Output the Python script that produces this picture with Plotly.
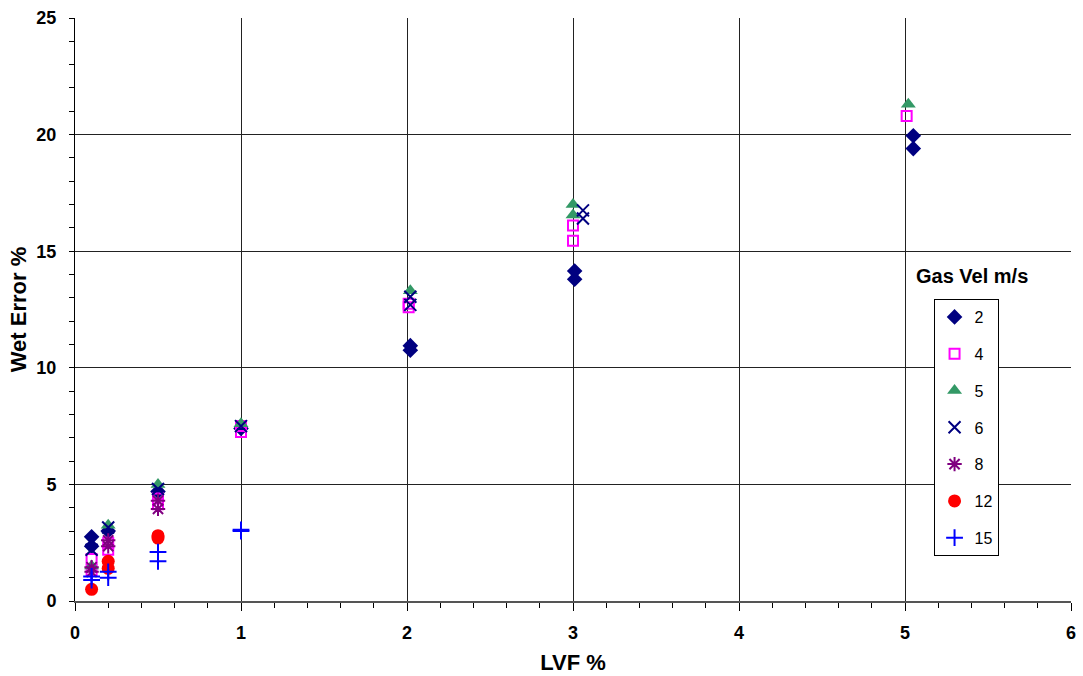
import plotly.graph_objects as go

# Data: LVF % (x) and Wet Error % (y) by gas velocity (m/s)
v2_x = [0.1, 0.1, 0.2, 0.5, 1.0, 2.02, 2.02, 3.01, 3.01, 5.05, 5.05]
v2_y = [2.75, 2.35, 3.0, 4.7, 7.4, 10.95, 10.75, 14.15, 13.8, 19.95, 19.4]

v4_x = [0.1, 0.1, 0.2, 0.2, 0.5, 0.5, 1.0, 1.0, 2.01, 2.01, 3.0, 3.0, 5.01]
v4_y = [1.8, 1.3, 2.5, 2.2, 4.4, 4.15, 7.5, 7.25, 12.75, 12.6, 16.1, 15.45, 20.8]

v5_x = [0.1, 0.2, 0.5, 1.0, 2.02, 3.0, 3.0, 5.02]
v5_y = [1.5, 3.25, 5.0, 7.6, 13.3, 17.0, 16.55, 21.3]

v6_x = [0.1, 0.2, 0.5, 1.0, 2.02, 2.02, 3.06, 3.06]
v6_y = [2.2, 3.15, 4.8, 7.5, 13.05, 12.7, 16.75, 16.4]

v8_x = [0.1, 0.1, 0.2, 0.2, 0.5, 0.5]
v8_y = [1.45, 1.25, 2.6, 2.35, 4.3, 3.95]

v12_x = [0.1, 0.2, 0.2, 0.5, 0.5]
v12_y = [0.5, 1.7, 1.4, 2.8, 2.7]

v15_x = [0.1, 0.1, 0.2, 0.2, 0.5, 0.5, 1.0, 1.0]
v15_y = [1.05, 0.9, 1.25, 1.0, 2.1, 1.7, 3.05, 3.0]

x_tick_vals = [0, 1, 2, 3, 4, 5, 6]
y_tick_vals = [0, 5, 10, 15, 20, 25]

series = [
    ("2", v2_x, v2_y, dict(symbol="diamond", color="#000080", size=12)),
    ("4", v4_x, v4_y, dict(symbol="square-open", color="#FF00FF", size=10, line=dict(width=2, color="#FF00FF"))),
    ("5", v5_x, v5_y, dict(symbol="triangle-up", color="#339966", size=13)),
    ("6", v6_x, v6_y, dict(symbol="x-thin-open", color="#000080", size=12, line=dict(width=2, color="#000080"))),
    ("8", v8_x, v8_y, dict(symbol="asterisk-open", color="#800080", size=12, line=dict(width=2, color="#800080"))),
    ("12", v12_x, v12_y, dict(symbol="circle", color="#FF0000", size=13)),
    ("15", v15_x, v15_y, dict(symbol="cross-thin-open", color="#0000FF", size=12, line=dict(width=2, color="#0000FF"))),
]

fig = go.Figure()
for name, xs, ys, mk in series:
    fig.add_trace(go.Scatter(x=xs, y=ys, mode="markers", name=name, marker=mk,
                             legendgroup=name))

font_family = "Liberation Sans, Arial, sans-serif"

fig.update_layout(
    width=1083, height=676,
    margin=dict(l=75, r=12, t=18, b=75),
    paper_bgcolor="white", plot_bgcolor="white",
    font=dict(family=font_family, color="black"),
    showlegend=True,
    legend=dict(
        x=0.862, y=0.518, xanchor="left", yanchor="top",
        bordercolor="black", borderwidth=1, bgcolor="white",
        font=dict(size=16, family=font_family),
        tracegroupgap=13, itemwidth=30,
    ),
    xaxis=dict(
        range=[0, 6], tickmode="array", tickvals=x_tick_vals,
        ticktext=["<b>%d</b>" % v for v in x_tick_vals],
        showgrid=True, gridcolor="#222", gridwidth=1,
        showline=True, linecolor="#555", linewidth=2,
        ticks="outside", ticklen=8, tickcolor="black",
        minor=dict(dtick=0.2, ticks="outside", ticklen=5, tickcolor="black", showgrid=False),
        tickfont=dict(size=18, family=font_family, weight=700),
        ticklabelstandoff=6,
        title=dict(text="<b>LVF %</b>", font=dict(size=22, family=font_family), standoff=13),
        zeroline=False, automargin=False,
    ),
    yaxis=dict(
        range=[0, 25], tickmode="array", tickvals=y_tick_vals,
        ticktext=["<b>%d</b>" % v for v in y_tick_vals],
        showgrid=True, gridcolor="#222", gridwidth=1,
        showline=True, linecolor="black", linewidth=1,
        ticks="outside", ticklen=5, tickcolor="black",
        minor=dict(dtick=1, ticks="outside", ticklen=5, tickcolor="black", showgrid=False),
        tickfont=dict(size=18, family=font_family, weight=700),
        ticklabelstandoff=9,
        title=dict(text="<b>Wet Error %</b>", font=dict(size=22, family=font_family), standoff=3),
        zeroline=False, automargin=False,
    ),
    annotations=[dict(
        text="<b>Gas Vel m/s</b>", x=0.842, y=0.536, xref="paper", yref="paper",
        xanchor="left", yanchor="bottom", showarrow=False,
        font=dict(size=20, family=font_family, color="black"),
    )],
)

fig.write_html("out.html")
